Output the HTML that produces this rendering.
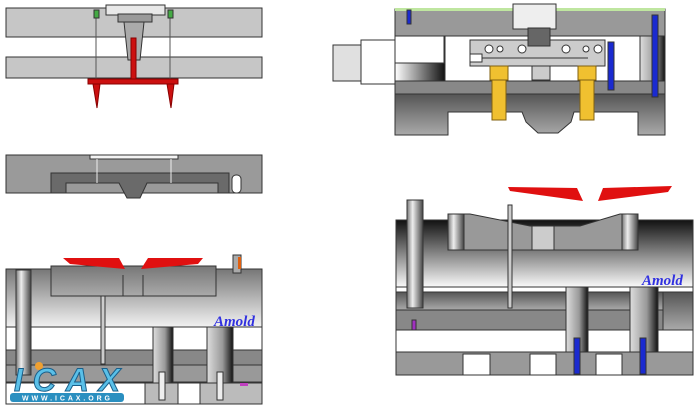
<!DOCTYPE html>
<html><head><meta charset="utf-8"><style>
html,body{margin:0;padding:0;background:#fff;}
svg{display:block;}
</style></head><body>
<svg width="699" height="410" viewBox="0 0 699 410" xmlns="http://www.w3.org/2000/svg" font-family="Liberation Sans, sans-serif">
<defs>
<linearGradient id="vg" x1="0" y1="0" x2="0" y2="1"><stop offset="0" stop-color="#777"/><stop offset="1" stop-color="#f2f2f2"/></linearGradient>
<linearGradient id="vgd" x1="0" y1="0" x2="0" y2="1"><stop offset="0" stop-color="#111"/><stop offset="1" stop-color="#fafafa"/></linearGradient>
<linearGradient id="vg2" x1="0" y1="0" x2="0" y2="1"><stop offset="0" stop-color="#555"/><stop offset="1" stop-color="#aaa"/></linearGradient>
<linearGradient id="cyl" x1="0" y1="0" x2="1" y2="0"><stop offset="0" stop-color="#777"/><stop offset="0.35" stop-color="#eee"/><stop offset="1" stop-color="#444"/></linearGradient>
<linearGradient id="cyl2" x1="0" y1="0" x2="1" y2="0"><stop offset="0" stop-color="#ddd"/><stop offset="0.6" stop-color="#999"/><stop offset="1" stop-color="#111"/></linearGradient>
<linearGradient id="hg" x1="0" y1="0" x2="1" y2="0"><stop offset="0" stop-color="#fff"/><stop offset="1" stop-color="#111"/></linearGradient>
<linearGradient id="mg" x1="0" y1="0" x2="0" y2="1"><stop offset="0" stop-color="#777"/><stop offset="1" stop-color="#aaa"/></linearGradient>
</defs>
<g stroke="#333" stroke-width="1">
<rect x="6" y="8" width="256" height="29" fill="#c6c6c6"/>
<rect x="6" y="57" width="256" height="21" fill="#c6c6c6"/>
<rect x="106" y="5" width="59" height="10" fill="#e8e8e8"/>
<rect x="118" y="14" width="34" height="8" fill="#999"/>
<polygon points="124,22 144,22 140,60 128,60" fill="#aaa"/>
<line x1="96" y1="10" x2="96" y2="80" stroke="#555"/>
<line x1="170" y1="10" x2="170" y2="80" stroke="#555"/>
<rect x="94" y="10" width="5" height="8" fill="#4a4"/>
<rect x="168" y="10" width="5" height="8" fill="#4a4"/>
</g>
<g fill="#cc1010" stroke="#800">
<rect x="131" y="38" width="5" height="42"/>
<rect x="88" y="79" width="90" height="5"/>
<polygon points="93,84 100,84 97,108"/>
<polygon points="167,84 174,84 171,108"/>
</g>
<g stroke="#333">
<rect x="6" y="155" width="256" height="38" fill="#9a9a9a"/>
<polygon points="51,173 229,173 229,193 218,193 218,183 147,183 140,198 127,198 119,183 66,183 66,193 51,193" fill="#6a6a6a"/>
<rect x="90" y="155" width="88" height="4" fill="#f4f4f4"/>
<rect x="232" y="175" width="9" height="18" rx="4" fill="#fff"/>
<line x1="97" y1="159" x2="97" y2="183" stroke="#eee"/>
<line x1="171" y1="159" x2="171" y2="183" stroke="#eee"/>
</g>
<g stroke="#333">
<rect x="6" y="269" width="256" height="58" fill="url(#vg)"/>
<rect x="51" y="266" width="165" height="30" fill="url(#mg)"/>
<line x1="123" y1="275" x2="123" y2="296"/><line x1="143" y1="275" x2="143" y2="296"/>
<rect x="6" y="327" width="256" height="23" fill="#fff"/>
<rect x="6" y="350" width="256" height="15" fill="#888"/>
<rect x="6" y="365" width="256" height="17" fill="#999"/>
<rect x="6" y="383" width="256" height="21" fill="#fff"/>
<rect x="145" y="383" width="33" height="21" fill="#bbb"/>
<rect x="200" y="383" width="62" height="21" fill="#bbb"/>
<rect x="16" y="270" width="15" height="105" fill="url(#cyl)"/>
<rect x="153" y="327" width="20" height="56" fill="url(#cyl2)"/>
<rect x="207" y="327" width="26" height="56" fill="url(#cyl2)"/>
<rect x="101" y="296" width="4" height="68" fill="#ccc"/>
<rect x="159" y="372" width="6" height="28" fill="#eee"/>
<rect x="217" y="372" width="6" height="28" fill="#eee"/>
<rect x="233" y="255" width="8" height="18" fill="#aaa"/>
<rect x="238" y="257" width="3" height="12" fill="#e06010" stroke="none"/>
</g>
<polygon points="63,258 119,258 125,269 70,264" fill="#e01010"/>
<polygon points="141,269 148,258 203,258 198,264" fill="#e01010"/>
<rect x="240" y="383" width="8" height="3" fill="#c040c0"/>
<text x="214" y="326" font-size="15" font-weight="bold" font-style="italic" font-family="Liberation Serif, serif" fill="#3030e0">Amold</text>
<g>
<circle cx="39" cy="366" r="4" fill="#f0a030"/>
<text x="14" y="391" font-size="32" font-style="italic" font-weight="bold" fill="#5ac0e8" stroke="#1a5f8a" stroke-width="1" textLength="106">ICAX</text>
<rect x="10" y="393" width="114" height="9" rx="3" fill="#2a8fc0"/>
<text x="22" y="400.5" font-size="7" font-weight="bold" fill="#fff" textLength="88">WWW.ICAX.ORG</text>
</g>
<g stroke="#333">
<rect x="395" y="9" width="270" height="27" fill="#999"/>
<rect x="395" y="8" width="270" height="3" fill="#bfe6a0" stroke="none"/>
<rect x="395" y="36" width="270" height="45" fill="#fff"/>
<rect x="444" y="36" width="1" height="45"/>
<rect x="395" y="63" width="50" height="18" fill="url(#hg)"/>
<rect x="640" y="36" width="25" height="45" fill="url(#cyl2)"/>
<rect x="470" y="40" width="135" height="26" fill="#ccc"/>
<rect x="470" y="54" width="12" height="8" fill="#fff"/>
<line x1="482" y1="58" x2="588" y2="58"/>
<circle cx="489" cy="49" r="4" fill="#fff"/><circle cx="500" cy="49" r="3" fill="#fff"/><circle cx="522" cy="49" r="4" fill="#fff"/>
<circle cx="566" cy="49" r="4" fill="#fff"/><circle cx="586" cy="49" r="3" fill="#fff"/><circle cx="598" cy="49" r="4" fill="#fff"/>
<rect x="513" y="4" width="43" height="25" fill="#eee"/>
<rect x="528" y="28" width="22" height="18" fill="#666"/>
<rect x="532" y="66" width="18" height="14" fill="#ccc"/>
<rect x="361" y="40" width="34" height="44" fill="#fff"/>
<rect x="333" y="45" width="28" height="36" fill="#e0e0e0"/>
<rect x="395" y="81" width="270" height="13" fill="#888"/>
<polygon points="395,94 665,94 665,135 638,135 638,112 574,112 571,122 558,133 538,133 526,122 522,112 448,112 448,135 395,135" fill="url(#vg2)"/>
<rect x="608" y="42" width="6" height="48" fill="#1a2ad0"/>
<rect x="652" y="15" width="6" height="82" fill="#1a2ad0"/>
<rect x="407" y="10" width="4" height="14" fill="#1a2ad0"/>
</g>
<g fill="#f0c030" stroke="#806010">
<rect x="490" y="66" width="18" height="14"/><rect x="492" y="80" width="14" height="40"/>
<rect x="578" y="66" width="18" height="14"/><rect x="580" y="80" width="14" height="40"/>
</g>
<g stroke="#333">
<rect x="396" y="220" width="297" height="67" fill="url(#vgd)"/>
<polygon points="448,214 470,214 530,226 580,226 620,214 638,214 638,250 448,250" fill="#999"/>
<rect x="448" y="214" width="16" height="36" fill="url(#cyl)"/>
<rect x="622" y="214" width="16" height="36" fill="url(#cyl)"/>
<rect x="532" y="226" width="22" height="24" fill="#ccc"/>
<rect x="396" y="287" width="297" height="5" fill="#fff"/>
<rect x="396" y="292" width="297" height="18" fill="url(#vg2)"/>
<rect x="396" y="310" width="297" height="20" fill="#888"/>
<rect x="396" y="330" width="297" height="22" fill="#fff"/>
<rect x="396" y="352" width="297" height="23" fill="#999"/>
<rect x="463" y="354" width="27" height="21" fill="#fff"/>
<rect x="530" y="354" width="26" height="21" fill="#fff"/>
<rect x="596" y="354" width="26" height="21" fill="#fff"/>
<rect x="663" y="292" width="30" height="38" fill="url(#vg2)"/>
<rect x="407" y="200" width="16" height="108" fill="url(#cyl)"/>
<rect x="508" y="205" width="4" height="103" fill="#ccc"/>
<rect x="566" y="287" width="22" height="65" fill="url(#cyl2)"/>
<rect x="630" y="287" width="28" height="65" fill="url(#cyl2)"/>
<rect x="574" y="338" width="6" height="36" fill="#1a2ad0"/>
<rect x="640" y="338" width="6" height="36" fill="#1a2ad0"/>
<rect x="412" y="320" width="4" height="10" fill="#a030c0"/>
</g>
<polygon points="508,187 577,188 583,201 510,191" fill="#e01010"/>
<polygon points="598,201 603,188 672,186 668,192" fill="#e01010"/>
<text x="642" y="285" font-size="15" font-weight="bold" font-style="italic" font-family="Liberation Serif, serif" fill="#3030e0">Amold</text>
</svg>
</body></html>
